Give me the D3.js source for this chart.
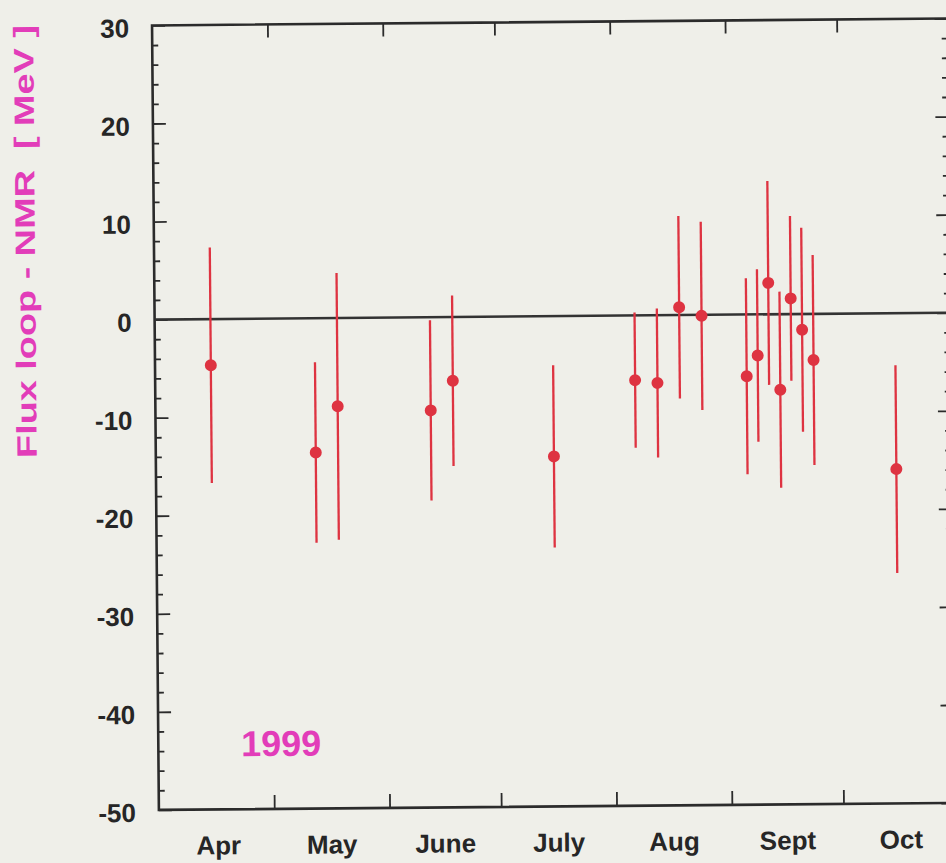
<!DOCTYPE html>
<html>
<head>
<meta charset="utf-8">
<script src="https://cdn.jsdelivr.net/npm/d3@7"></script>
<style>
  html, body { margin: 0; padding: 0; background: #efefe9; }
  svg { display: block; }
  text { font-family: "Liberation Sans", Arial, Helvetica, sans-serif; font-weight: bold; }
</style>
</head>
<body>
<svg id="chart" width="946" height="863"></svg>
<script>
// Flux loop minus NMR field measurements, 1999
const obsDates = ["1999-04-15", "1999-05-13", "1999-05-19", "1999-06-13", "1999-06-19",
                  "1999-07-16", "1999-08-07", "1999-08-13", "1999-08-19", "1999-08-25",
                  "1999-09-06", "1999-09-09", "1999-09-12", "1999-09-15", "1999-09-18",
                  "1999-09-21", "1999-09-24", "1999-10-16"];
const deltaMeV = [-4.7, -13.7, -9.0, -9.5, -6.5, -14.3, -6.6, -6.9, 0.8, -0.1,
                  -6.3, -4.2, 3.2, -7.7, 1.6, -1.6, -4.7, -15.9];
const errMeV   = [12.0, 9.2, 13.6, 9.2, 8.7, 9.3, 6.9, 7.6, 9.3, 9.6,
                  10.0, 8.8, 10.4, 10.0, 8.4, 10.4, 10.7, 10.6];

const monthNames  = ["Apr", "May", "June", "July", "Aug", "Sept", "Oct"];
const monthStarts = ["1999-04-01", "1999-05-01", "1999-06-01", "1999-07-01",
                     "1999-08-01", "1999-09-01", "1999-10-01", "1999-11-01"];
const yTickLabels = [-50, -40, -30, -20, -10, 0, 10, 20, 30];

const parse = d3.timeParse("%Y-%m-%d");
const ink = "#2b2b2b", red = "#de3341", pink = "#e23db9";

const plotLeft = 155.5, plotRight = 948, plotTop = 22, plotBottom = 806.5;
const frameRight = 951;

const x = d3.scaleTime()
  .domain([parse("1999-03-31"), parse("1999-10-30")])
  .range([plotLeft, plotRight]);
const y = d3.scaleLinear().domain([-50, 30]).range([plotBottom, plotTop]);

const svg = d3.select("#chart");
svg.append("rect").attr("width", 946).attr("height", 863).attr("fill", "#efefe9");

// whole figure sits slightly tilted on the page
const g = svg.append("g").attr("transform", "rotate(-0.5, 550, 420)");

const minorY = d3.range(-50, 31, 2).filter(v => v % 10 !== 0);
const monthTicks = monthStarts.slice(1, 7).map(parse);

function styleTicks(sel) {
  sel.select(".domain").remove();
  sel.selectAll("line").attr("stroke", ink).attr("stroke-width", 1.8);
  sel.selectAll("text").remove();
}

// left axis ticks
g.append("g").attr("transform", `translate(${plotLeft},0)`)
  .call(d3.axisRight(y).tickValues(yTickLabels).tickSize(13)).call(styleTicks);
g.append("g").attr("transform", `translate(${plotLeft},0)`)
  .call(d3.axisRight(y).tickValues(minorY).tickSize(6)).call(styleTicks);
// right axis ticks
g.append("g").attr("transform", `translate(${frameRight},0)`)
  .call(d3.axisLeft(y).tickValues(yTickLabels).tickSize(13)).call(styleTicks);
g.append("g").attr("transform", `translate(${frameRight},0)`)
  .call(d3.axisLeft(y).tickValues(minorY).tickSize(6)).call(styleTicks);
// month boundary ticks, top and bottom
g.append("g").attr("transform", `translate(0,${plotTop})`)
  .call(d3.axisBottom(x).tickValues(monthTicks).tickSize(13)).call(styleTicks);
g.append("g").attr("transform", `translate(0,${plotBottom})`)
  .call(d3.axisTop(x).tickValues(monthTicks).tickSize(14)).call(styleTicks);

// y tick labels (plain hyphen for negatives)
const yLab = g.append("g").attr("transform", `translate(${plotLeft},0)`)
  .call(d3.axisLeft(y).tickValues(yTickLabels).tickSize(0).tickPadding(23)
          .tickFormat(d => String(d)));
yLab.select(".domain").remove();
yLab.selectAll("text")
  .attr("y", 3)
  .attr("fill", "#262626")
  .style("font-size", "26px")
  .style("font-family", '"Liberation Sans", Arial, sans-serif')
  .style("font-weight", "bold");

// month labels centred in each month
g.append("g").selectAll("text")
  .data(monthNames)
  .join("text")
  .attr("x", (d, i) => {
    const a = parse(monthStarts[i]), b = parse(monthStarts[i + 1]);
    return x(new Date((+a + +b) / 2));
  })
  .attr("y", 851.5)
  .attr("text-anchor", "middle")
  .attr("fill", "#262626")
  .style("font-size", "26px")
  .text(d => d);

// frame
g.append("rect")
  .attr("x", plotLeft).attr("y", plotTop)
  .attr("width", frameRight - plotLeft).attr("height", plotBottom - plotTop)
  .attr("fill", "none").attr("stroke", ink).attr("stroke-width", 2.6);

// zero reference line
g.append("line")
  .attr("x1", plotLeft).attr("x2", frameRight)
  .attr("y1", y(0)).attr("y2", y(0))
  .attr("stroke", "#333").attr("stroke-width", 2.6);

// measurements with error bars
const pts = obsDates.map((d, i) => ({ date: parse(d), v: deltaMeV[i], e: errMeV[i] }));
g.append("g").selectAll("line")
  .data(pts)
  .join("line")
  .attr("x1", d => x(d.date)).attr("x2", d => x(d.date))
  .attr("y1", d => y(d.v + d.e)).attr("y2", d => y(d.v - d.e))
  .attr("stroke", red).attr("stroke-width", 2.3);
g.append("g").selectAll("circle")
  .data(pts)
  .join("circle")
  .attr("cx", d => x(d.date)).attr("cy", d => y(d.v))
  .attr("r", 6)
  .attr("fill", red);

// year annotation
g.append("text")
  .attr("x", x(parse("1999-05-03"))).attr("y", y(-44.6))
  .attr("text-anchor", "middle")
  .attr("fill", pink)
  .style("font-size", "36px")
  .text("1999");

// y axis title
g.append("text")
  .attr("transform", "translate(36.5,237) rotate(-90)")
  .attr("text-anchor", "middle")
  .attr("fill", pink)
  .attr("textLength", 433)
  .attr("lengthAdjust", "spacingAndGlyphs")
  .style("font-size", "28px")
  .style("white-space", "pre")
  .text("Flux loop - NMR  [ MeV ]");
</script>
</body>
</html>
